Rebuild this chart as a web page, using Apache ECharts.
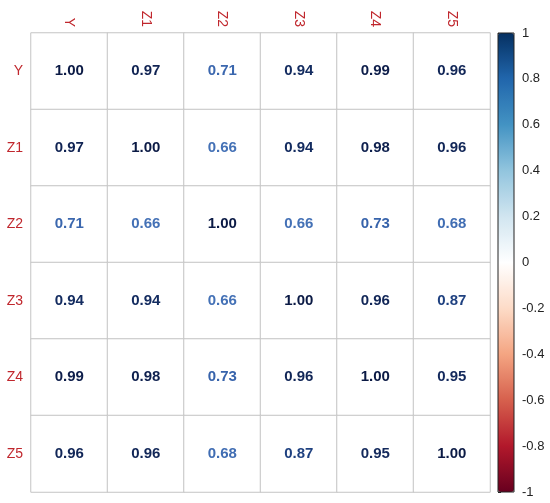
<!DOCTYPE html>
<html>
<head>
<meta charset="utf-8">
<script src="https://cdn.jsdelivr.net/npm/echarts@6/dist/echarts.min.js"></script>
<style>
  html, body { margin: 0; padding: 0; background: #fff; }
  #chart-1 { width: 550px; height: 503px; }
</style>
</head>
<body>
<div id="chart-1"></div>
<script>
const vars = ['Y', 'Z1', 'Z2', 'Z3', 'Z4', 'Z5'];
const rowY  = [1.00, 0.97, 0.71, 0.94, 0.99, 0.96];
const rowZ1 = [0.97, 1.00, 0.66, 0.94, 0.98, 0.96];
const rowZ2 = [0.71, 0.66, 1.00, 0.66, 0.73, 0.68];
const rowZ3 = [0.94, 0.94, 0.66, 1.00, 0.96, 0.87];
const rowZ4 = [0.99, 0.98, 0.73, 0.96, 1.00, 0.95];
const rowZ5 = [0.96, 0.96, 0.68, 0.87, 0.95, 1.00];
const rows = [rowY, rowZ1, rowZ2, rowZ3, rowZ4, rowZ5];

// colour bar (RdBu)
const palette = ['#67001F', '#B2182B', '#D6604D', '#F4A582', '#FDDBC7', '#FFFFFF',
                 '#D1E5F0', '#92C5DE', '#4393C3', '#2166AC', '#053061'];
// number text looks a bit deeper than the bar
const textPalette = ['#5A0A1E', '#A0202A', '#C8574A', '#E6967A', '#F0C8B8', '#E8E8EE',
                     '#B5CBE6', '#7EA2D3', '#4F7CC0', '#2A56A0', '#0B1A45'];

const cells = [];
rows.forEach((r, i) => r.forEach((v, j) => cells.push([j, i, v])));

const TheChart = echarts.init(document.getElementById('chart-1'));

TheChart.setOption({
    animation: false,
    textStyle: { fontFamily: 'Liberation Sans, Arial, sans-serif' },
    grid: [
        { left: 31, top: 33, width: 459, height: 459 },
        { left: 498, top: 33, width: 16, height: 459, show: true,
          borderColor: '#222', borderWidth: 1, backgroundColor: 'transparent', z: 10 }
    ],
    xAxis: [{
        type: 'category',
        data: vars,
        position: 'top',
        axisLine: { show: false },
        axisTick: { show: false },
        splitLine: { show: false },
        axisLabel: { rotate: 90, color: '#C0272D', fontSize: 14, margin: 6 }
    }, {
        gridIndex: 1, type: 'value', show: false, min: 0, max: 1
    }],
    yAxis: [{
        type: 'category',
        data: vars,
        inverse: true,
        axisLine: { show: false },
        axisTick: { show: false },
        splitLine: { show: false },
        axisLabel: { color: '#C0272D', fontSize: 14, margin: 8 }
    }, {
        gridIndex: 1, type: 'value', position: 'right',
        min: -1, max: 1, interval: 0.2,
        axisLine: { show: false },
        axisTick: { show: true, length: 3, lineStyle: { color: '#222' } },
        splitLine: { show: false },
        axisLabel: { color: '#222', fontSize: 13, margin: 8,
                     formatter: v => String(Math.round(v * 10) / 10) }
    }],
    visualMap: [{
        type: 'continuous',
        min: -1, max: 1,
        seriesIndex: 2,
        calculable: false,
        orient: 'vertical',
        left: 498, top: 33,
        itemWidth: 16, itemHeight: 459,
        padding: 0,
        text: null,
        showLabel: false,
        inRange: { color: palette }
    }, {
        type: 'continuous',
        show: false,
        min: -1, max: 1,
        seriesIndex: 1,
        dimension: 2,
        inRange: { color: textPalette }
    }],
    series: [{
        type: 'heatmap',
        data: cells,
        itemStyle: { color: '#fff', borderColor: '#c4c4c4', borderWidth: 1 },
        label: { show: false },
        emphasis: { disabled: true }
    }, {
        type: 'scatter',
        data: cells,
        symbolSize: 0,
        itemStyle: { opacity: 1 },
        label: {
            show: true,
            position: 'inside',
            color: 'inherit',
            fontSize: 15,
            fontWeight: 'bold',
            formatter: p => p.value[2].toFixed(2)
        }
    }, {
        type: 'scatter',
        data: []
    }]
});
</script>
</body>
</html>
